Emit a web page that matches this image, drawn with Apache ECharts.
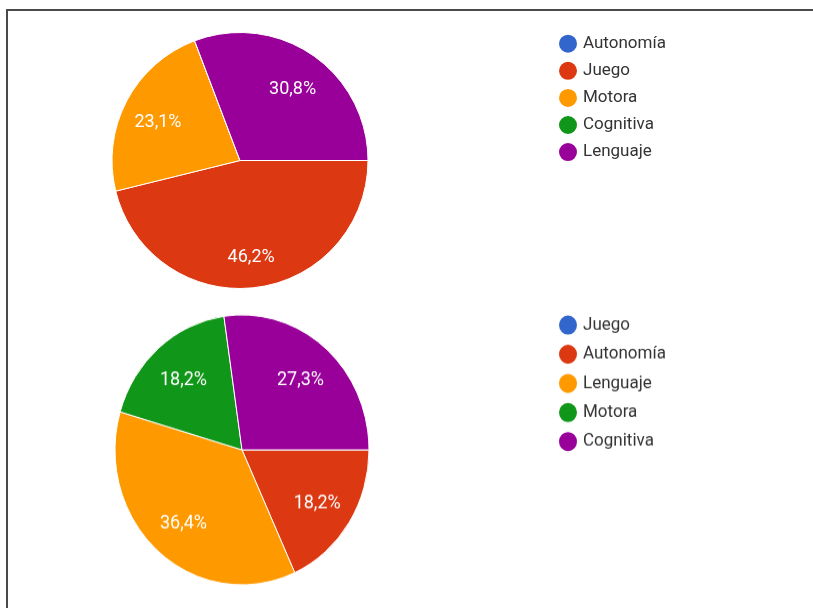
<!DOCTYPE html>
<html>
<head>
<meta charset="utf-8">
<script src="https://cdn.jsdelivr.net/npm/echarts@6/dist/echarts.min.js"></script>
<style>
  html, body { margin: 0; padding: 0; background: #fff; overflow: hidden; }
  body { width: 813px; height: 608px; position: relative; }
  #frame { position: absolute; left: 6px; top: 9px; right: -10px; bottom: -10px;
           border-left: 2px solid #4a4a4a; border-top: 2px solid #4a4a4a; }
  #top { position: absolute; left: 0; top: 0; width: 813px; height: 300px; }
  /* la segunda imagen está algo estirada en vertical */
  #bot { position: absolute; left: 0; top: 300px; width: 813px; height: 290px;
         transform: scaleY(1.063); transform-origin: 0 0; }
</style>
</head>
<body>
<div id="frame"></div>
<div id="top"></div>
<div id="bot"></div>
<script>
// Gráfico 1
const names1 = ['Autonomía', 'Juego', 'Motora', 'Cognitiva', 'Lenguaje'];
const values1 = [0, 6, 3, 0, 4];
// Gráfico 2
const names2 = ['Juego', 'Autonomía', 'Lenguaje', 'Motora', 'Cognitiva'];
const values2 = [0, 2, 4, 2, 3];

const colors = ['#3366cc', '#dc3912', '#ff9900', '#109618', '#990099'];
const font = 'Roboto, Arial, sans-serif';

function makeOption(names, values, center, radius, legendTop, legendGap, inner, labelDy) {
  const total = values.reduce((a, b) => a + b, 0);
  const data = names.map((n, i) => ({ name: n, value: values[i] }));
  return {
    color: colors,
    animation: false,
    legend: {
      orient: 'vertical',
      left: 557,
      top: legendTop,
      padding: 0,
      icon: 'circle',
      itemWidth: 20,
      itemHeight: 20,
      itemGap: legendGap,
      selectedMode: false,
      data: names,
      textStyle: { fontFamily: font, fontSize: 17, lineHeight: 20, color: '#333' }
    },
    series: [
      {
        type: 'pie',
        center: center,
        radius: radius,
        startAngle: 0,
        clockwise: true,
        silent: true,
        itemStyle: { borderColor: '#fff', borderWidth: 1 },
        label: { show: false },
        labelLine: { show: false },
        data: data
      },
      {
        // capa transparente solo para situar los porcentajes más hacia fuera
        type: 'pie',
        center: center,
        radius: [radius * inner, radius],
        startAngle: 0,
        clockwise: true,
        silent: true,
        itemStyle: { color: 'rgba(0,0,0,0)' },
        label: {
          show: true,
          position: 'inside',
          color: '#fff',
          fontFamily: font,
          fontSize: 18,
          offset: [0, labelDy],
          formatter: p => p.value ? (p.value / total * 100).toFixed(1).replace('.', ',') + '%' : ''
        },
        labelLine: { show: false },
        data: data
      }
    ]
  };
}

const chart1 = echarts.init(document.getElementById('top'));
chart1.setOption(makeOption(names1, values1, [240, 160.5], 128, 32.7, 5.1, 0.4, 5));

const chart2 = echarts.init(document.getElementById('bot'));
chart2.setOption(makeOption(names2, values2, [242, 141], 127, 12.6, 5.4, 0.36, 2));
</script>
</body>
</html>
